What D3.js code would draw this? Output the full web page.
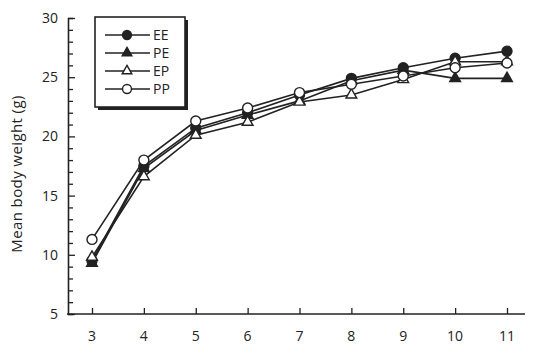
<!DOCTYPE html>
<html>
<head>
<meta charset="utf-8">
<script src="https://cdn.jsdelivr.net/npm/d3@7"></script>
<style>
  body { margin: 0; background: #fff; }
  text { font-family: "Open Sans", sans-serif; fill: #222; }
</style>
</head>
<body>
<div id="chart"></div>
<script>
// weeks on x axis
var weeks = [3, 4, 5, 6, 7, 8, 9, 10, 11];
var yTicks = [5, 10, 15, 20, 25, 30];
var seriesNames = ["EE", "PE", "EP", "PP"];

// mean body weight (g)
var EE = [9.5, 17.5, 20.7, 22.0, 23.5, 24.9, 25.8, 26.6, 27.2];
var PE = [9.3, 17.3, 20.5, 21.8, 23.0, 24.7, 25.6, 24.9, 24.9];
var EP = [9.8, 16.6, 20.1, 21.2, 22.9, 23.5, 24.8, 26.3, 26.3];
var PP = [11.3, 18.0, 21.3, 22.4, 23.7, 24.4, 25.1, 25.8, 26.2];

var width = 533, height = 348;
var ink = "#222";

var svg = d3.select("#chart").append("svg")
    .attr("width", width)
    .attr("height", height);

var x = d3.scaleLinear().domain([3, 11]).range([92, 507]);
var y = d3.scaleLinear().domain([5, 30]).range([314, 18]);

// axes: ticks point inward
var yAxis = d3.axisRight(y).tickValues(d3.range(5, 31, 1)).tickSize(5).tickFormat("");
svg.append("g").attr("transform", "translate(68,0)").call(yAxis)
    .call(function(g) {
        g.select(".domain").attr("stroke", ink).attr("stroke-width", 1.6);
        g.selectAll(".tick line").attr("stroke", ink).attr("stroke-width", 1.3)
            .attr("x2", function(d) { return d % 5 === 0 ? 7 : 5; });
    });

svg.append("line")
    .attr("x1", 67).attr("x2", 525)
    .attr("y1", 314).attr("y2", 314)
    .attr("stroke", ink).attr("stroke-width", 1.6);

var xAxis = d3.axisTop(x).tickValues(weeks).tickSize(6).tickFormat("");
svg.append("g").attr("transform", "translate(0,314)").call(xAxis)
    .call(function(g) {
        g.select(".domain").remove();
        g.selectAll(".tick line").attr("stroke", ink).attr("stroke-width", 1.3);
    });

svg.selectAll(".xlab").data(weeks).enter().append("text")
    .attr("x", function(d) { return x(d); })
    .attr("y", 341)
    .attr("text-anchor", "middle")
    .style("font-size", "14px")
    .text(function(d) { return d; });

svg.selectAll(".ylab").data(yTicks).enter().append("text")
    .attr("x", 58)
    .attr("y", function(d) { return y(d) + 5; })
    .attr("text-anchor", "end")
    .style("font-size", "14px")
    .text(function(d) { return d; });

svg.append("text")
    .attr("transform", "translate(22,174) rotate(-90)")
    .attr("text-anchor", "middle")
    .style("font-size", "15px")
    .style("letter-spacing", "0.4px")
    .text("Mean body weight  (g)");

// series
var series = [
    {name: "EE", values: EE, shape: "circle", fill: ink},
    {name: "PE", values: PE, shape: "triangle", fill: ink},
    {name: "EP", values: EP, shape: "triangle", fill: "#fff"},
    {name: "PP", values: PP, shape: "circle", fill: "#fff"}
];

var line = d3.line()
    .x(function(d, i) { return x(weeks[i]); })
    .y(function(d) { return y(d); });

function symbolPath(shape, small) {
    var k = small ? 0.8 : 1;
    return shape === "circle"
        ? d3.symbol().type(d3.symbolCircle).size(78 * k)()
        : d3.symbol().type(d3.symbolTriangle).size(50 * k)();
}

series.forEach(function(s) {
    svg.append("path")
        .attr("d", line(s.values))
        .attr("fill", "none")
        .attr("stroke", ink)
        .attr("stroke-width", 1.6);
});

series.forEach(function(s) {
    svg.selectAll(".m-" + s.name).data(s.values).enter().append("path")
        .attr("d", symbolPath(s.shape))
        .attr("transform", function(d, i) { return "translate(" + x(weeks[i]) + "," + y(d) + ")"; })
        .attr("fill", s.fill)
        .attr("stroke", ink)
        .attr("stroke-width", 1.4);
});

// legend box with shadow
var legend = svg.append("g");
legend.append("rect").attr("x", 98).attr("y", 20).attr("width", 90).attr("height", 90).attr("fill", ink);
legend.append("rect").attr("x", 95).attr("y", 17).attr("width", 90).attr("height", 90)
    .attr("fill", "#fff").attr("stroke", ink).attr("stroke-width", 1.6);

series.forEach(function(s, i) {
    var ly = 35 + i * 18;
    legend.append("line").attr("x1", 105).attr("x2", 150).attr("y1", ly).attr("y2", ly)
        .attr("stroke", ink).attr("stroke-width", 1.6);
    legend.append("path").attr("d", symbolPath(s.shape, true))
        .attr("transform", "translate(127," + ly + ")")
        .attr("fill", s.fill).attr("stroke", ink).attr("stroke-width", 1.4);
    legend.append("text").attr("x", 153).attr("y", ly + 5)
        .style("font-size", "14px")
        .text(seriesNames[i]);
});
</script>
</body>
</html>
